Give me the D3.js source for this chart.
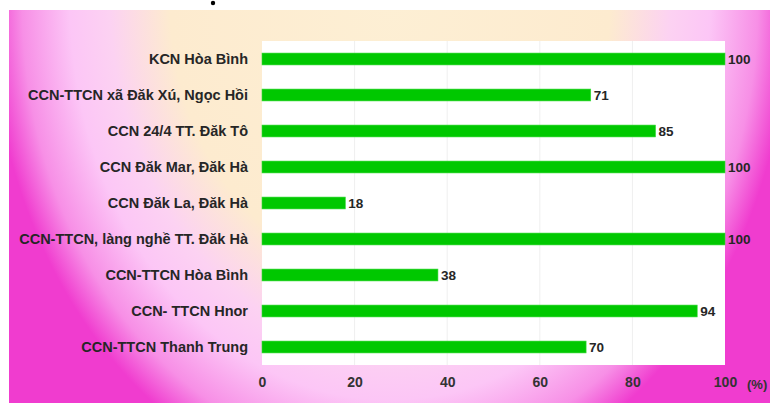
<!DOCTYPE html>
<html><head><meta charset="utf-8">
<script src="https://cdn.jsdelivr.net/npm/d3@7"></script>
<style>body{margin:0;background:#fff}svg{display:block}</style>
</head><body>
<script>
const categories = ["KCN Hòa Bình","CCN-TTCN xã Đăk Xú, Ngọc Hồi","CCN 24/4 TT. Đăk Tô","CCN Đăk Mar, Đăk Hà","CCN Đăk La, Đăk Hà","CCN-TTCN, làng nghề TT. Đăk Hà","CCN-TTCN Hòa Bình","CCN- TTCN Hnor","CCN-TTCN Thanh Trung"];
const values = [100,71,85,100,18,100,38,94,70];
const xTicks = [0,20,40,60,80,100];
const unitLabel = "(%)";

const W = 770, H = 405;
const svg = d3.select("body").append("svg").attr("width", W).attr("height", H);
const defs = svg.append("defs");
const rg = defs.append("radialGradient").attr("id","bg").attr("gradientUnits","userSpaceOnUse")
  .attr("cx",390).attr("cy",0).attr("r",400)
  .attr("gradientTransform","translate(390,0) scale(1,1.25) translate(-390,0)");
[[0,"#fdefd4"],[0.55,"#fdebcf"],[0.7,"#fcd2f2"],[0.8,"#fcc6f6"],[0.92,"#f78fe6"],[1,"#f03ccf"]].forEach(([o,c])=>
  rg.append("stop").attr("offset",o).attr("stop-color",c));
svg.append("rect").attr("x",9).attr("y",10).attr("width",W-9).attr("height",393).attr("fill","url(#bg)");
svg.append("circle").attr("cx",213).attr("cy",3).attr("r",2.2).attr("fill","#000");

const m = {left:262, right:725, top:41, bottom:365};
const x = d3.scaleLinear().domain([0,100]).range([m.left, m.right]);
const y = d3.scaleBand().domain(categories).range([m.top, m.bottom]).paddingInner(0.67).paddingOuter(0.335);

svg.append("rect").attr("x",m.left).attr("y",m.top).attr("width",m.right-m.left).attr("height",m.bottom-m.top).attr("fill","#fff");
svg.append("g").selectAll("line").data(xTicks.slice(1,-1)).join("line")
  .attr("x1",d=>x(d)).attr("x2",d=>x(d)).attr("y1",m.top).attr("y2",m.bottom)
  .attr("stroke","#efefef").attr("stroke-width",1);

const font = "'Liberation Sans', Arial, sans-serif";
svg.append("g").selectAll("rect").data(values).join("rect")
  .attr("x",x(0)).attr("y",(d,i)=>y(categories[i])).attr("width",d=>x(d)-x(0)).attr("height",y.bandwidth())
  .attr("fill","#00c800").attr("stroke","#3bd83b").attr("stroke-width",0.6);

svg.append("g").selectAll("text").data(values).join("text")
  .attr("x",d=>x(d)+3).attr("y",(d,i)=>y(categories[i])+y.bandwidth()/2).attr("dy","0.36em")
  .attr("font-family",font).attr("font-weight","bold").attr("font-size",13.5).attr("fill","#262626")
  .text(d=>d);

const yAxis = svg.append("g").attr("transform",`translate(${m.left-14},0)`)
  .call(d3.axisLeft(y).tickSize(0).tickPadding(0));
yAxis.select(".domain").remove();
yAxis.selectAll("text").attr("font-family",font).attr("font-weight","bold").attr("font-size",14.5).attr("fill","#262626");

const xAxis = svg.append("g").attr("transform",`translate(0,${m.bottom})`)
  .call(d3.axisBottom(x).tickValues(xTicks).tickSize(0).tickPadding(12));
xAxis.select(".domain").remove();
xAxis.selectAll("text").attr("font-family",font).attr("font-weight","bold").attr("font-size",14).attr("fill","#333");

svg.append("text").attr("x",747).attr("y",389).attr("font-family",font).attr("font-weight","bold")
  .attr("font-size",13).attr("fill","#333").text(unitLabel);
</script>
</body></html>
